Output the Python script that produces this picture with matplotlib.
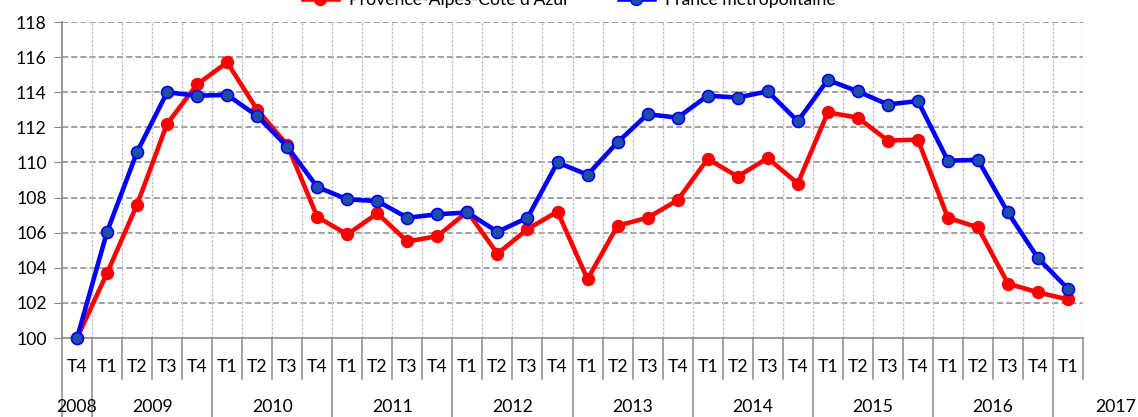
import matplotlib
matplotlib.use("Agg")
import matplotlib.pyplot as plt
import matplotlib.transforms as mtransforms
from matplotlib.lines import Line2D

plt.rcParams['font.family'] = ['Lato', 'DejaVu Sans']

# quarters from T4 2008 to T1 2017
quarters = ['T4'] + ['T1', 'T2', 'T3', 'T4'] * 8 + ['T1']
years = ['2008', '2009', '2010', '2011', '2012', '2013', '2014', '2015', '2016', '2017']

paca = [100.0, 103.7, 107.6, 112.2, 114.45, 115.7, 113.0, 111.0, 106.9, 105.9,
        107.1, 105.5, 105.8, 107.2, 104.8, 106.2, 107.2, 103.35, 106.4, 106.85,
        107.85, 110.2, 109.2, 110.25, 108.8, 112.85, 112.55, 111.25, 111.3, 106.85,
        106.3, 103.1, 102.6, 102.2]
france = [100.0, 106.05, 110.6, 114.0, 113.8, 113.85, 112.65, 110.9, 108.6, 107.9,
          107.8, 106.85, 107.05, 107.15, 106.05, 106.85, 110.0, 109.3, 111.15, 112.75,
          112.55, 113.8, 113.7, 114.05, 112.35, 114.7, 114.05, 113.3, 113.5, 110.1,
          110.15, 107.15, 104.55, 102.8]

x = list(range(len(quarters)))
fs = 12.7

fig = plt.figure(figsize=(11.38, 4.17), dpi=100)
ax = fig.add_axes([0.0545, 0.1894, 0.8972, 0.7578])

ax.plot(x, paca, color='#ff0000', lw=3.3, marker='o', ms=8.6,
        mfc='#ff0000', mec='#ff0000', zorder=3, clip_on=False)
ax.plot(x, france, color='#0000ff', lw=3.3, marker='o', ms=8.6,
        mfc='#1f4ea6', mec='#0000ff', mew=1.2, zorder=4, clip_on=False)

ax.set_xlim(-0.5, len(x) - 0.5)
ax.set_ylim(100, 118)
ax.set_yticks(range(100, 119, 2))
ax.tick_params(axis='y', labelsize=fs, length=6, color='#888888', pad=5)
ax.set_xticks([])

# grid: horizontal dashed, vertical at category boundaries
for v in range(102, 119, 2):
    ax.axhline(v, color='#888888', lw=1.1, ls=(0, (4, 2)), zorder=1)
for b in range(len(x)):
    ax.axvline(b + 0.5, color='#c4c4c4', lw=1.0, ls=(0, (2, 1)), zorder=1)

for s in ['top', 'right']:
    ax.spines[s].set_visible(False)
for s in ['left', 'bottom']:
    ax.spines[s].set_color('#888888')
    ax.spines[s].set_linewidth(1.2)

# multi-level category axis
trans = mtransforms.blended_transform_factory(ax.transData, ax.transAxes)
for i, q in enumerate(quarters):
    ax.text(i, -0.092, q, transform=trans, ha='center', va='center', fontsize=fs)
for b in range(len(x) + 1):
    pos = b - 0.5
    is_year = (b == 0) or ((b - 1) % 4 == 0)
    bottom = -0.26 if is_year and b < len(x) else -0.13
    ax.plot([pos, pos], [0, bottom], transform=trans, color='#888888',
            lw=1.1, clip_on=False)

year_pos = [0] + [2.5 + 4 * k for k in range(8)] + [34.6]
for yp, yr in zip(year_pos, years):
    ax.text(yp, -0.218, yr, transform=trans, ha='center', va='center', fontsize=fs)

handles = [
    Line2D([], [], color='#ff0000', lw=3.3, marker='o', ms=8.6, mfc='#ff0000', mec='#ff0000'),
    Line2D([], [], color='#0000ff', lw=3.3, marker='o', ms=8.6, mfc='#1f4ea6', mec='#0000ff'),
]
fig.legend(handles, ["Provence-Alpes-Côte d'Azur", 'France métropolitaine'],
           loc='center', bbox_to_anchor=(0.500, 0.999), ncol=2, frameon=False,
           fontsize=fs, handlelength=2.0, handletextpad=0.6, columnspacing=2.8)

fig.savefig('out.png', dpi=100)
